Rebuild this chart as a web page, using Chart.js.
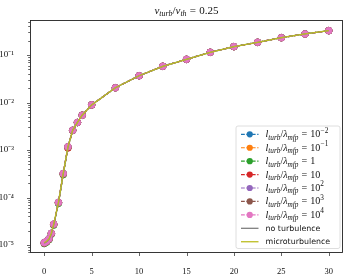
<!DOCTYPE html>
<html><head><meta charset="utf-8">
<script src="https://cdn.jsdelivr.net/npm/chart.js@4/dist/chart.umd.min.js"></script>
<style>html,body{margin:0;padding:0;background:#fff}#wrap{width:353px;height:274px;position:relative}</style>
</head><body><div id="wrap"><canvas id="c" width="353" height="274"></canvas></div>
<script>
// ---- data ----
const xValues = [0,0.25,0.5,0.75,1,1.5,2,2.5,3,3.5,4,5,7.5,10,12.5,15,17.5,20,22.5,25,27.5,30];
const turbM2 = [1.12e-5,1.2e-5,1.35e-5,1.76e-5,2.74e-5,7.9e-5,3.18e-4,1.16e-3,2.6e-3,3.8e-3,5.4e-3,8.9e-3,2.04e-2,3.66e-2,5.78e-2,8.1e-2,0.114,0.150,0.185,0.231,0.277,0.325];
const turbM1 = [1.11e-5,1.19e-5,1.34e-5,1.75e-5,2.72e-5,7.8e-5,3.15e-4,1.15e-3,2.6e-3,3.8e-3,5.4e-3,8.9e-3,2.04e-2,3.66e-2,5.78e-2,8.1e-2,0.114,0.150,0.185,0.231,0.277,0.325];
const turb0  = [1.07e-5,1.15e-5,1.29e-5,1.69e-5,2.62e-5,7.5e-5,3.02e-4,1.12e-3,2.57e-3,3.78e-3,5.4e-3,8.9e-3,2.04e-2,3.66e-2,5.78e-2,8.1e-2,0.114,0.150,0.185,0.231,0.277,0.325];
const turb1  = [1.1e-5,1.18e-5,1.33e-5,1.74e-5,2.7e-5,7.8e-5,3.12e-4,1.1e-3,2.58e-3,3.8e-3,5.4e-3,8.9e-3,2.04e-2,3.66e-2,5.78e-2,8.1e-2,0.114,0.150,0.185,0.231,0.277,0.325];
const turb2  = [1.12e-5,1.2e-5,1.35e-5,1.77e-5,2.75e-5,7.9e-5,3.2e-4,1.17e-3,2.6e-3,3.8e-3,5.4e-3,8.9e-3,2.04e-2,3.66e-2,5.78e-2,8.1e-2,0.114,0.150,0.185,0.231,0.277,0.325];
const turb3  = [1.12e-5,1.2e-5,1.35e-5,1.77e-5,2.75e-5,7.9e-5,3.2e-4,1.17e-3,2.6e-3,3.8e-3,5.4e-3,8.9e-3,2.04e-2,3.66e-2,5.78e-2,8.1e-2,0.114,0.150,0.185,0.231,0.277,0.325];
const turb4  = [1.12e-5,1.2e-5,1.35e-5,1.77e-5,2.75e-5,7.9e-5,3.2e-4,1.17e-3,2.6e-3,3.8e-3,5.4e-3,8.9e-3,2.04e-2,3.66e-2,5.78e-2,8.1e-2,0.114,0.150,0.185,0.231,0.277,0.325];
const noTurb = [1.09e-5,1.17e-5,1.31e-5,1.71e-5,2.66e-5,7.6e-5,3.08e-4,1.14e-3,2.6e-3,3.8e-3,5.4e-3,8.9e-3,2.04e-2,3.66e-2,5.78e-2,8.1e-2,0.114,0.150,0.185,0.231,0.277,0.325];
const microTurb = [1.12e-5,1.2e-5,1.35e-5,1.77e-5,2.75e-5,7.9e-5,3.2e-4,1.17e-3,2.6e-3,3.8e-3,5.4e-3,8.9e-3,2.04e-2,3.66e-2,5.78e-2,8.1e-2,0.114,0.150,0.185,0.231,0.277,0.325];

const seriesLabels = ['l_{turb}/\u03bb_{mfp} = 10^{-2}','l_{turb}/\u03bb_{mfp} = 10^{-1}','l_{turb}/\u03bb_{mfp} = 1','l_{turb}/\u03bb_{mfp} = 10','l_{turb}/\u03bb_{mfp} = 10^{2}','l_{turb}/\u03bb_{mfp} = 10^{3}','l_{turb}/\u03bb_{mfp} = 10^{4}'];
const lineLabels = ['no turbulence','microturbulence'];
const titleText = 'v_{turb}/v_{th} = 0.25';
const xTickValues = [0,5,10,15,20,25,30];
const yTickValues = [1e-5,1e-4,1e-3,1e-2,1e-1];
const yTickLabels = ['10\u207b\u2075','10\u207b\u2074','10\u207b\u00b3','10\u207b\u00b2','10\u207b\u00b9'];

const seriesData = [turbM2,turbM1,turb0,turb1,turb2,turb3,turb4];
const seriesColors = ['#1f77b4','#ff7f0e','#2ca02c','#d62728','#9467bd','#8c564b','#e377c2'];
const lineData = [noTurb, microTurb];
const lineColors = ['#7f7f7f','#bcbd22'];

const pts = arr => arr.map((y,i)=>({x:xValues[i], y}));
const datasets = [];
seriesData.forEach((d,i)=>datasets.push({
  label: seriesLabels[i], data: pts(d), borderColor: seriesColors[i], backgroundColor: seriesColors[i],
  borderWidth: 1.2, borderDash:[4.2,1.8], pointRadius:3.3, pointBorderWidth:0.8, pointBorderColor: seriesColors[i],
  tension:0, order: 20 - i
}));
lineData.forEach((d,i)=>datasets.push({
  label: lineLabels[i], data: pts(d), borderColor: lineColors[i], backgroundColor: lineColors[i],
  borderWidth: 1.3, pointRadius:0, tension:0, order: 10 - i
}));

const MATH = 'Liberation Serif';
function parseMath(s){
  const segs=[]; let i=0;
  while(i<s.length){
    let c=s[i], mode=0;
    if(c==='_'||c==='^'){ mode = c==='_'?-1:1; i++;
      let t;
      if(s[i]==='{'){ const j=s.indexOf('}',i); t=s.slice(i+1,j); i=j+1; } else { t=s[i]; i++; }
      segs.push({t,mode});
    } else { segs.push({t:c,mode:0}); i++; }
  }
  return segs;
}
function drawMath(ctx, s, x, y, size, align){
  const segs = parseMath(s);
  const items=[];
  segs.forEach(sg=>{
    const fs = sg.mode===0 ? size : size*0.72;
    const dy = sg.mode===-1 ? size*0.24 : (sg.mode===1 ? -size*0.45 : 0);
    for(const ch of sg.t){
      const ital = /[a-zA-Z\u03bb]/.test(ch);
      const font = (ital?'italic ':'') + fs + 'px "' + MATH + '"';
      ctx.font = font;
      let w = ctx.measureText(ch).width;
      if(ch===' ') w = size*0.3;
      if(ch==='-') { w = fs*0.62; }
      items.push({ch: ch==='-'?'\u2212':ch,font,w,dy});
    }
  });
  const total = items.reduce((a,b)=>a+b.w,0);
  let cx = align==='center' ? x - total/2 : x;
  ctx.textBaseline='alphabetic'; ctx.textAlign='left';
  items.forEach(it=>{ ctx.font=it.font; if(it.ch!==' ') ctx.fillText(it.ch, cx, y+it.dy); cx+=it.w; });
}

const decor = {
  id:'decor',
  afterDraw(chart){
    const ctx=chart.ctx, a=chart.chartArea, xs=chart.scales.x, ys=chart.scales.y;
    ctx.save();
    // spines
    ctx.strokeStyle='#222'; ctx.lineWidth=0.9;
    ctx.strokeRect(Math.round(a.left)+0.5, Math.round(a.top)+0.5, Math.round(a.right-a.left)-1, Math.round(a.bottom-a.top)-1);
    // x ticks
    ctx.beginPath();
    xTickValues.forEach(v=>{ const px=Math.round(xs.getPixelForValue(v))+0.5; ctx.moveTo(px,a.bottom); ctx.lineTo(px,a.bottom+3); });
    // y ticks major + minor
    for(let e=-6;e<=0;e++){
      for(let k=1;k<=9;k++){
        const v=k*Math.pow(10,e);
        if(v<ys.min||v>ys.max) continue;
        const py=Math.round(ys.getPixelForValue(v))+0.5;
        const len = k===1?3:1.8;
        ctx.moveTo(a.left,py); ctx.lineTo(a.left-len,py);
      }
    }
    ctx.lineWidth=0.7; ctx.strokeStyle='#222'; ctx.stroke();
    // title
    ctx.fillStyle='#111';
    drawMath(ctx, titleText, (a.left+a.right)/2, 13.5, 11, 'center');
    // legend
    const bx=236, by=126, bw=104, bh=122.5, r=2;
    ctx.beginPath();
    ctx.moveTo(bx+r,by); ctx.lineTo(bx+bw-r,by); ctx.quadraticCurveTo(bx+bw,by,bx+bw,by+r);
    ctx.lineTo(bx+bw,by+bh-r); ctx.quadraticCurveTo(bx+bw,by+bh,bx+bw-r,by+bh);
    ctx.lineTo(bx+r,by+bh); ctx.quadraticCurveTo(bx,by+bh,bx,by+bh-r);
    ctx.lineTo(bx,by+r); ctx.quadraticCurveTo(bx,by,bx+r,by); ctx.closePath();
    ctx.fillStyle='rgba(255,255,255,0.85)'; ctx.fill();
    ctx.strokeStyle='#d6d6d6'; ctx.lineWidth=0.8; ctx.stroke();
    const rowH=13.43, y0=134.3, hx0=241, hx1=258.5, tx=265.5;
    seriesLabels.forEach((lab,i)=>{
      const yy=y0+i*rowH, col=seriesColors[i];
      ctx.strokeStyle=col; ctx.lineWidth=1.2; ctx.setLineDash([3.8,1.6]);
      ctx.beginPath(); ctx.moveTo(hx0,yy); ctx.lineTo(hx1,yy); ctx.stroke(); ctx.setLineDash([]);
      ctx.fillStyle=col; ctx.beginPath(); ctx.arc((hx0+hx1)/2,yy,3.1,0,Math.PI*2); ctx.fill();
      ctx.fillStyle='#111';
      drawMath(ctx, lab, tx, yy+3, 10.1, 'left');
    });
    lineLabels.forEach((lab,i)=>{
      const yy=y0+(7+i)*rowH;
      ctx.strokeStyle=lineColors[i]; ctx.lineWidth=1.3;
      ctx.beginPath(); ctx.moveTo(hx0,yy); ctx.lineTo(hx1,yy); ctx.stroke();
      ctx.fillStyle='#111'; ctx.font='7.9px "DejaVu Sans"'; ctx.textBaseline='middle'; ctx.textAlign='left';
      ctx.fillText(lab, tx, yy+0.3);
    });
    ctx.restore();
  }
};

new Chart(document.getElementById('c'), {
  type:'line',
  data:{datasets},
  options:{
    responsive:false, animation:false, devicePixelRatio:1,
    layout:{padding:{top:20,right:10,left:0,bottom:0}},
    plugins:{legend:{display:false}, tooltip:{enabled:false}, title:{display:false}},
    scales:{
      x:{type:'linear', min:-1.5, max:31.5,
        afterBuildTicks(s){ s.ticks = xTickValues.map(v=>({value:v})); },
        afterFit(s){ s.height=21; },
        grid:{display:false}, border:{display:false},
        ticks:{autoSkip:false, maxRotation:0, padding:6, color:'#111', font:{family:MATH,size:8.5}, callback:(v)=>String(v)}
      },
      y:{type:'logarithmic', min:6.8e-6, max:0.545,
        afterBuildTicks(s){ s.ticks = yTickValues.map(v=>({value:v, major:true})); },
        afterFit(s){ s.width=30; },
        grid:{display:false}, border:{display:false},
        ticks:{autoSkip:false, padding:8, color:'#111', font:{family:MATH,size:9}, callback:(v,i)=>yTickLabels[i]}
      }
    }
  },
  plugins:[decor]
});
</script></body></html>
